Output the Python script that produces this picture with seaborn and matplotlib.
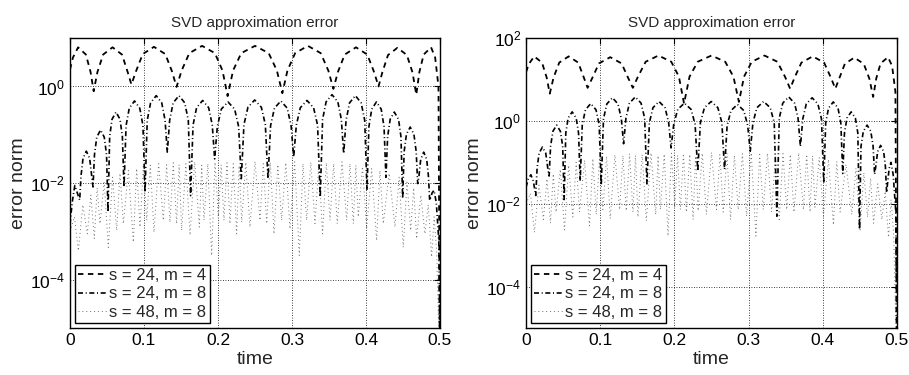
import numpy as np
import matplotlib
matplotlib.use("Agg")
import matplotlib.pyplot as plt
from matplotlib.ticker import NullLocator
import seaborn as sns

# ---- data (values are log10 of the error norm) ----
# s = 24, m = 4  (dashed)
dash_t = [0, 0.004, 0.011, 0.0215, 0.0278, 0.032,
          0.0371, 0.0448, 0.0575, 0.0703, 0.0779, 0.083,
          0.0891, 0.0983, 0.1135, 0.1288, 0.1379, 0.144,
          0.1509, 0.1613, 0.1785, 0.1958, 0.2061, 0.213,
          0.2204, 0.2315, 0.25, 0.2685, 0.2796, 0.287,
          0.2939, 0.3043, 0.3215, 0.3388, 0.3491, 0.356,
          0.3621, 0.3713, 0.3865, 0.4018, 0.4109, 0.417,
          0.4221, 0.4298, 0.4425, 0.4553, 0.4629, 0.468,
          0.4722, 0.478, 0.488, 0.4935, 0.498, 0.5]
left_dash_e = [0.35, 0.60, 0.81, 0.66, 0.30, -0.10,
               0.30, 0.66, 0.81, 0.66, 0.30, 0.04,
               0.31, 0.67, 0.82, 0.67, 0.31, -0.01,
               0.33, 0.69, 0.84, 0.69, 0.33, -0.20,
               0.33, 0.69, 0.84, 0.69, 0.33, -0.14,
               0.33, 0.69, 0.84, 0.69, 0.33, -0.05,
               0.30, 0.66, 0.81, 0.66, 0.30, 0.00,
               0.29, 0.65, 0.80, 0.65, 0.29, -0.17,
               0.30, 0.66, 0.81, 0.60, 0.00, -6]
right_dash_e = [1.18, 1.38, 1.56, 1.41, 1.05, 0.66,
                1.05, 1.41, 1.56, 1.41, 1.05, 0.80,
                1.03, 1.39, 1.54, 1.39, 1.03, 0.80,
                1.07, 1.43, 1.58, 1.43, 1.07, 0.42,
                1.07, 1.43, 1.58, 1.43, 1.07, 0.46,
                1.07, 1.43, 1.58, 1.43, 1.07, 0.78,
                1.05, 1.41, 1.56, 1.41, 1.05, 0.78,
                1.02, 1.38, 1.53, 1.38, 1.02, 0.58,
                1.03, 1.39, 1.54, 1.33, 0.70, -6]

# s = 24, m = 8  (dash-dot)
dashdot_t = [0, 0.003, 0.0065, 0.0098, 0.0131,
             0.0149, 0.0176, 0.0221, 0.0266, 0.0293, 0.0311,
             0.0331, 0.0362, 0.0413, 0.0463, 0.0494, 0.0514,
             0.0536, 0.0568, 0.0622, 0.0676, 0.0708, 0.073,
             0.0758, 0.0801, 0.0872, 0.0943, 0.0986, 0.1014,
             0.1044, 0.1089, 0.1165, 0.124, 0.1285, 0.1315,
             0.1347, 0.1394, 0.1473, 0.1551, 0.1599, 0.163,
             0.1663, 0.1711, 0.1793, 0.1874, 0.1923, 0.1955,
             0.1991, 0.2045, 0.2135, 0.2225, 0.2279, 0.2315,
             0.2351, 0.2405, 0.2496, 0.2586, 0.264, 0.2676,
             0.2711, 0.2763, 0.285, 0.2936, 0.2988, 0.3023,
             0.3059, 0.3113, 0.3203, 0.3292, 0.3346, 0.3382,
             0.3414, 0.3461, 0.3541, 0.362, 0.3667, 0.3699,
             0.3731, 0.3778, 0.3857, 0.3935, 0.3983, 0.4014,
             0.404, 0.4078, 0.4142, 0.4206, 0.4244, 0.427,
             0.4293, 0.4327, 0.4383, 0.444, 0.4473, 0.4496,
             0.4516, 0.4547, 0.4598, 0.4648, 0.4679, 0.4699,
             0.4715, 0.474, 0.478, 0.4821, 0.4845, 0.4861,
             0.4895, 0.492, 0.495, 0.4985, 0.5]
left_dashdot_e = [-2.85, -2.4, -2.05, -2.2, -2.35,
                  -1.85, -1.49, -1.34, -1.49, -1.85, -2.08,
                  -1.41, -1.05, -0.90, -1.05, -1.41, -2.60,
                  -1.04, -0.68, -0.53, -0.68, -1.04, -2.08,
                  -0.81, -0.45, -0.30, -0.45, -0.81, -2.19,
                  -0.70, -0.34, -0.19, -0.34, -0.70, -1.36,
                  -0.70, -0.34, -0.19, -0.34, -0.70, -2.26,
                  -0.80, -0.44, -0.29, -0.44, -0.80, -1.50,
                  -0.83, -0.47, -0.32, -0.47, -0.83, -1.91,
                  -0.79, -0.43, -0.28, -0.43, -0.79, -1.91,
                  -0.81, -0.45, -0.30, -0.45, -0.81, -1.46,
                  -0.80, -0.44, -0.29, -0.44, -0.80, -2.29,
                  -0.68, -0.32, -0.17, -0.32, -0.68, -1.39,
                  -0.70, -0.34, -0.19, -0.34, -0.70, -2.15,
                  -0.83, -0.47, -0.32, -0.47, -0.83, -1.88,
                  -1.04, -0.68, -0.53, -0.68, -1.04, -2.32,
                  -1.35, -0.99, -0.84, -0.99, -1.35, -2.01,
                  -1.87, -1.51, -1.36, -1.51, -1.87, -2.36,
                  -2.2, -2.15, -2.4, -3.2, -6]
right_dashdot_e = [-1.6, -1.4, -1.3, -1.45, -1.8,
                   -1.14, -0.78, -0.63, -0.78, -1.14, -1.33,
                   -0.61, -0.25, -0.10, -0.25, -0.61, -1.90,
                   -0.29, 0.07, 0.22, 0.07, -0.29, -1.45,
                   -0.09, 0.27, 0.42, 0.27, -0.09, -1.55,
                   0.05, 0.41, 0.56, 0.41, 0.05, -0.55,
                   0.07, 0.43, 0.58, 0.43, 0.07, -1.52,
                   -0.04, 0.32, 0.47, 0.32, -0.04, -0.65,
                   -0.08, 0.28, 0.43, 0.28, -0.08, -1.21,
                   -0.04, 0.32, 0.47, 0.32, -0.04, -1.17,
                   -0.11, 0.25, 0.40, 0.25, -0.11, -0.73,
                   -0.04, 0.32, 0.47, 0.32, -0.04, -2.30,
                   0.07, 0.43, 0.58, 0.43, 0.07, -0.62,
                   0.05, 0.41, 0.56, 0.41, 0.05, -1.50,
                   -0.05, 0.31, 0.46, 0.31, -0.05, -1.27,
                   -0.29, 0.07, 0.22, 0.07, -0.29, -2.62,
                   -0.61, -0.25, -0.10, -0.25, -0.61, -1.29,
                   -1.10, -0.74, -0.59, -0.74, -1.10, -1.73,
                   -1.15, -1.0, -1.3, -2.2, -6]

# s = 48, m = 8  (dotted)
dot_t = [0, 0.006,
         0.0113, 0.0174, 0.0234, 0.0282, 0.0329, 0.0367, 0.0405, 0.0462,
         0.0518, 0.0575, 0.0631, 0.0676, 0.0721, 0.0789, 0.0856, 0.0901,
         0.0946, 0.0991, 0.1036, 0.1086, 0.1135, 0.1198, 0.1261, 0.1306,
         0.1351, 0.1396, 0.1441, 0.1475, 0.1509, 0.1566, 0.1622, 0.1685,
         0.1748, 0.178, 0.1811, 0.1863, 0.1914, 0.196, 0.2005, 0.2043,
         0.2081, 0.2122, 0.2162, 0.2207, 0.2252, 0.2286, 0.232, 0.2376,
         0.2432, 0.25, 0.2568, 0.2613, 0.2658, 0.2708, 0.2757, 0.2809,
         0.286, 0.2917, 0.2973, 0.3036, 0.3099, 0.3149, 0.3198, 0.3255,
         0.3311, 0.3363, 0.3414, 0.3464, 0.3514, 0.3563, 0.3612, 0.3676,
         0.3739, 0.3784, 0.3829, 0.3863, 0.3896, 0.3953, 0.4009, 0.4077,
         0.4144, 0.4189, 0.4234, 0.4313, 0.4392, 0.4448, 0.4504, 0.4554,
         0.4604, 0.4645, 0.4685, 0.4741, 0.4797, 0.4842, 0.4887, 0.4921,
         0.4955, 0.5]
left_dot_e = [-3.0, -2.7,
              -3.40, -2.45, -3.05, -2.25, -3.15, -2.10, -2.84, -1.98,
              -3.33, -1.88, -2.98, -1.80, -2.84, -1.74, -3.22, -1.70,
              -2.91, -1.66, -2.77, -1.63, -3.02, -1.60, -2.77, -1.62,
              -2.81, -1.58, -2.84, -1.62, -2.98, -1.60, -3.08, -1.56,
              -2.91, -1.63, -2.77, -1.60, -3.50, -1.57, -2.70, -1.62,
              -2.77, -1.58, -2.84, -1.60, -3.05, -1.64, -2.81, -1.57,
              -2.91, -1.55, -2.77, -1.60, -2.84, -1.57, -3.05, -1.62,
              -2.77, -1.58, -2.95, -1.56, -3.50, -1.60, -2.77, -1.57,
              -2.84, -1.62, -3.05, -1.58, -2.77, -1.60, -2.84, -1.56,
              -2.77, -1.60, -2.84, -1.63, -2.70, -1.66, -2.95, -1.70,
              -3.19, -1.74, -2.84, -1.80, -2.91, -1.88, -3.33, -1.98,
              -2.98, -2.10, -3.15, -2.25, -3.05, -2.45, -3.53, -2.70,
              -3.40, -6]
right_dot_e = [-2.0, -1.75,
               -2.69, -1.55, -2.38, -1.40, -2.47, -1.28, -2.20, -1.17,
               -2.63, -1.07, -2.32, -1.00, -2.20, -0.95, -2.53, -0.91,
               -2.26, -0.88, -2.14, -0.85, -2.36, -0.82, -2.14, -0.84,
               -2.17, -0.79, -2.20, -0.83, -2.32, -0.81, -2.41, -0.77,
               -2.26, -0.84, -2.14, -0.80, -2.78, -0.78, -2.08, -0.83,
               -2.14, -0.79, -2.20, -0.81, -2.38, -0.85, -2.17, -0.78,
               -2.26, -0.76, -2.14, -0.81, -2.20, -0.78, -2.38, -0.83,
               -2.14, -0.79, -2.30, -0.77, -2.78, -0.81, -2.14, -0.78,
               -2.20, -0.83, -2.38, -0.79, -2.14, -0.81, -2.20, -0.77,
               -2.14, -0.81, -2.20, -0.84, -2.08, -0.88, -2.30, -0.93,
               -2.51, -0.98, -2.20, -1.05, -2.26, -1.14, -2.63, -1.25,
               -2.32, -1.38, -2.47, -1.52, -2.38, -1.70, -2.81, -1.90,
               -2.69, -6]

labels = ["s = 24, m = 4", "s = 24, m = 8", "s = 48, m = 8"]
x_ticks = [0, 0.1, 0.2, 0.3, 0.4, 0.5]
x_ticklabels = ["0", "0.1", "0.2", "0.3", "0.4", "0.5"]

sns.set_style("white")
plt.rcParams['font.family'] = ['Liberation Sans', 'DejaVu Sans']

fig = plt.figure(figsize=(9.09, 3.75), dpi=100)
ax_l = fig.add_axes([0.077, 0.1253, 0.407, 0.773])
ax_r = fig.add_axes([0.5787, 0.1253, 0.408, 0.773])

panels = [
    (ax_l, left_dash_e, left_dashdot_e, left_dot_e, (1e-5, 1e1), [1e-4, 1e-2, 1e0]),
    (ax_r, right_dash_e, right_dashdot_e, right_dot_e, (1e-5, 1e2), [1e-4, 1e-2, 1e0, 1e2]),
]

for ax, de, dde, dte, ylim, yt in panels:
    sns.lineplot(x=dash_t, y=10.0 ** np.array(de), ax=ax, color="k",
                 linewidth=1.3, linestyle=(0, (3, 2.5)), label=labels[0], zorder=4)
    sns.lineplot(x=dashdot_t, y=10.0 ** np.array(dde), ax=ax, color="k",
                 linewidth=1.2, linestyle=(0, (3, 1.6, 0.6, 1.6)), label=labels[1], zorder=3)
    sns.lineplot(x=dot_t, y=10.0 ** np.array(dte), ax=ax, color="0.45",
                 linewidth=0.7, linestyle=(0, (1, 3)), label=labels[2], zorder=2)
    ax.set_yscale("log")
    ax.set_xlim(0, 0.5)
    ax.set_ylim(*ylim)
    ax.set_xticks(x_ticks)
    ax.set_xticklabels(x_ticklabels)
    ax.set_yticks(yt)
    ax.yaxis.set_minor_locator(NullLocator())
    ax.grid(True, which="major", color="k", linestyle=(0, (1, 2)), linewidth=0.6)
    ax.tick_params(direction="in", top=True, right=True, length=4, labelsize=12.5,
                   colors="k")
    for sp in ax.spines.values():
        sp.set_color("k")
        sp.set_linewidth(1.0)
    ax.set_title("SVD approximation error", fontsize=11, pad=8)
    ax.set_xlabel("time", fontsize=14, labelpad=2)
    ax.set_ylabel("error norm", fontsize=14, labelpad=2)
    leg = ax.legend(loc="lower left", fontsize=12, frameon=True, fancybox=False,
                    framealpha=1, edgecolor="k", borderaxespad=0.3, borderpad=0.2,
                    handlelength=1.7, handletextpad=0.15, labelspacing=0.2)
    leg.get_frame().set_linewidth(1.0)

fig.savefig("out.png", dpi=100)
